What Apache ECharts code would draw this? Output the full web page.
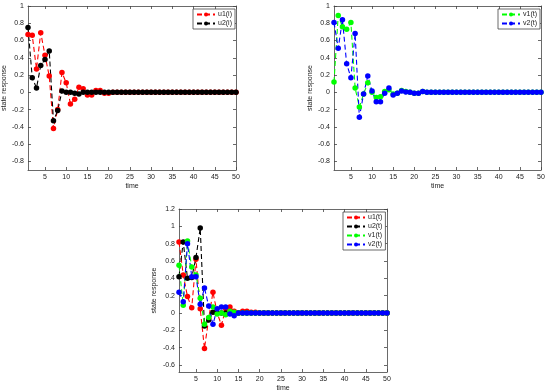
<!DOCTYPE html>
<html><head><meta charset="utf-8">
<script src="https://cdn.jsdelivr.net/npm/echarts@6/dist/echarts.min.js"></script>
<style>html,body{margin:0;padding:0;background:#fff}#c{width:550px;height:391px}</style>
</head><body><div id="c"></div><script>
// time steps
const time = [1,2,3,4,5,6,7,8,9,10,11,12,13,14,15,16,17,18,19,20,21,22,23,24,25,26,27,28,29,30,31,32,33,34,35,36,37,38,39,40,41,42,43,44,45,46,47,48,49,50];
// tick labels
const xTicks = [5,10,15,20,25,30,35,40,45,50];
const yTicksTop = [-0.8,-0.6,-0.4,-0.2,0,0.2,0.4,0.6,0.8,1];
const yTicksBottom = [-0.6,-0.4,-0.2,0,0.2,0.4,0.6,0.8,1,1.2];
// top-left panel
const u1i = [0.67,0.66,0.27,0.69,0.43,0.19,-0.42,-0.20,0.23,0.11,-0.135,-0.08,0.06,0.04,-0.03,-0.03,0.02,0.02,-0.01,-0.01,0,0,0,0,0,0,0,0,0,0,0,0,0,0,0,0,0,0,0,0,0,0,0,0,0,0,0,0,0,0];
const u2i = [0.75,0.17,0.05,0.31,0.38,0.48,-0.33,-0.21,0.015,0,0,-0.01,-0.02,0,0,0,0,0,0,0,0,0,0,0,0,0,0,0,0,0,0,0,0,0,0,0,0,0,0,0,0,0,0,0,0,0,0,0,0,0];
// top-right panel
const v1a = [0.12,0.89,0.76,0.73,0.81,0.05,-0.17,-0.02,0.11,0,-0.06,-0.05,0.01,0.03,-0.02,-0.01,0.02,0.01,0,-0.01,-0.01,0.01,0,0,0,0,0,0,0,0,0,0,0,0,0,0,0,0,0,0,0,0,0,0,0,0,0,0,0,0];
const v2a = [0.81,0.51,0.84,0.33,0.17,0.68,-0.29,-0.02,0.19,0.015,-0.11,-0.11,-0.01,0.05,-0.03,-0.01,0.015,0.005,0,-0.01,-0.01,0.01,0,0,0,0,0,0,0,0,0,0,0,0,0,0,0,0,0,0,0,0,0,0,0,0,0,0,0,0];
// bottom panel
const u1b = [0.82,0.44,0.19,0.06,0.62,0.05,-0.41,-0.06,0.24,0.0,-0.14,0.05,0.07,0.02,0.0,0.02,0.02,0.01,0.01,0,0,0,0,0,0,0,0,0,0,0,0,0,0,0,0,0,0,0,0,0,0,0,0,0,0,0,0,0,0,0];
const u2b = [0.42,0.82,0.40,0.41,0.64,0.98,-0.15,-0.08,0.01,0,0,0,0,0,0,0,0,0,0,0,0,0,0,0,0,0,0,0,0,0,0,0,0,0,0,0,0,0,0,0,0,0,0,0,0,0,0,0,0,0];
const v1b = [0.55,0.09,0.83,0.53,0.44,0.17,-0.13,-0.05,0.07,-0.01,0.0,-0.02,0.02,0.01,0,0,0,0,0,0,0,0,0,0,0,0,0,0,0,0,0,0,0,0,0,0,0,0,0,0,0,0,0,0,0,0,0,0,0,0];
const v2b = [0.24,0.13,0.80,0.42,0.42,0.10,0.29,0.08,-0.13,0.05,0.07,0.07,-0.01,-0.03,0,0,0,0,0,0,0,0,0,0,0,0,0,0,0,0,0,0,0,0,0,0,0,0,0,0,0,0,0,0,0,0,0,0,0,0];

const FONT = 'Liberation Sans';
const AX = '#444';
const TXT = '#222';

const grids = [
  {left:28, top:6, width:208, height:164, outerBoundsMode:'none'},
  {left:334, top:6, width:207, height:164, outerBoundsMode:'none'},
  {left:179, top:209, width:208, height:163, outerBoundsMode:'none'}
];
const yRanges = [[-0.9,1,yTicksTop],[-0.9,1,yTicksTop],[-0.68,1.2,yTicksBottom]];

const xAxes = [], yAxes = [];
grids.forEach((g,i)=>{
  const base = {type:'value', gridIndex:i, min:1, max:50,
    axisLine:{show:true, onZero:false, lineStyle:{color:AX, width:0.8}},
    splitLine:{show:false}};
  xAxes.push(Object.assign({}, base, {position:'bottom',
    axisTick:{show:true, inside:true, length:3, customValues:xTicks, lineStyle:{color:AX, width:0.8}},
    axisLabel:{show:true, customValues:xTicks, fontSize:7, fontFamily:FONT, color:TXT, margin:4},
    name:'time', nameLocation:'middle', nameGap:13,
    nameTextStyle:{fontSize:7, fontFamily:FONT, color:TXT}}));
  xAxes.push(Object.assign({}, base, {position:'top',
    axisTick:{show:true, inside:true, length:3, customValues:xTicks, lineStyle:{color:AX, width:0.8}},
    axisLabel:{show:false}}));
  const [mn,mx,tk] = yRanges[i];
  const ybase = {type:'value', gridIndex:i, min:mn, max:mx,
    axisLine:{show:true, onZero:false, lineStyle:{color:AX, width:0.8}},
    splitLine:{show:false}};
  yAxes.push(Object.assign({}, ybase, {position:'left',
    axisTick:{show:true, inside:true, length:3, customValues:tk, lineStyle:{color:AX, width:0.8}},
    axisLabel:{show:true, customValues:tk, fontSize:7, fontFamily:FONT, color:TXT, margin:4},
    name:'state response', nameLocation:'middle', nameGap:i===2?21:19,
    nameTextStyle:{fontSize:7, fontFamily:FONT, color:TXT}}));
  yAxes.push(Object.assign({}, ybase, {position:'right',
    axisTick:{show:true, inside:true, length:3, customValues:tk, lineStyle:{color:AX, width:0.8}},
    axisLabel:{show:false}}));
});

function mk(name, vals, color, gi){
  return {type:'line', name:name, xAxisIndex:gi*2, yAxisIndex:gi*2,
    data: time.map((t,k)=>[t, vals[k]]),
    symbol:'circle', symbolSize:5.5, showSymbol:true,
    lineStyle:{type:[5,3], width:1.1, color:color},
    itemStyle:{color:color}, animation:false, emphasis:{disabled:true}};
}

const series = [
  mk('u1(i)', u1i, '#ff0000', 0),
  mk('u2(i)', u2i, '#000000', 0),
  mk('v1(t)', v1a, '#00ff00', 1),
  mk('v2(t)', v2a, '#0000ff', 1),
  mk('u1(t)', u1b, '#ff0000', 2),
  mk('u2(t)', u2b, '#000000', 2),
  mk('v1(t)', v1b, '#00ff00', 2),
  mk('v2(t)', v2b, '#0000ff', 2)
];

function leg(names, left, top){
  return {data:names, orient:'vertical', left:left, top:top,
    itemWidth:18, itemHeight:5, itemGap:2, padding:[2,3,2,3],
    borderColor:'#444', borderWidth:0.8, backgroundColor:'#fff',
    textStyle:{fontSize:7, fontFamily:FONT, color:TXT, padding:[0,0,0,-2]},
    selectedMode:false};
}

const chart = echarts.init(document.getElementById('c'), null, {renderer:'canvas'});
chart.setOption({
  animation:false,
  backgroundColor:'#fff',
  grid:grids, xAxis:xAxes, yAxis:yAxes, series:series,
  legend:[leg(['u1(i)','u2(i)'],193,9), leg(['v1(t)','v2(t)'],498,9), leg(['u1(t)','u2(t)','v1(t)','v2(t)'],343,212)]
});
</script></body></html>
